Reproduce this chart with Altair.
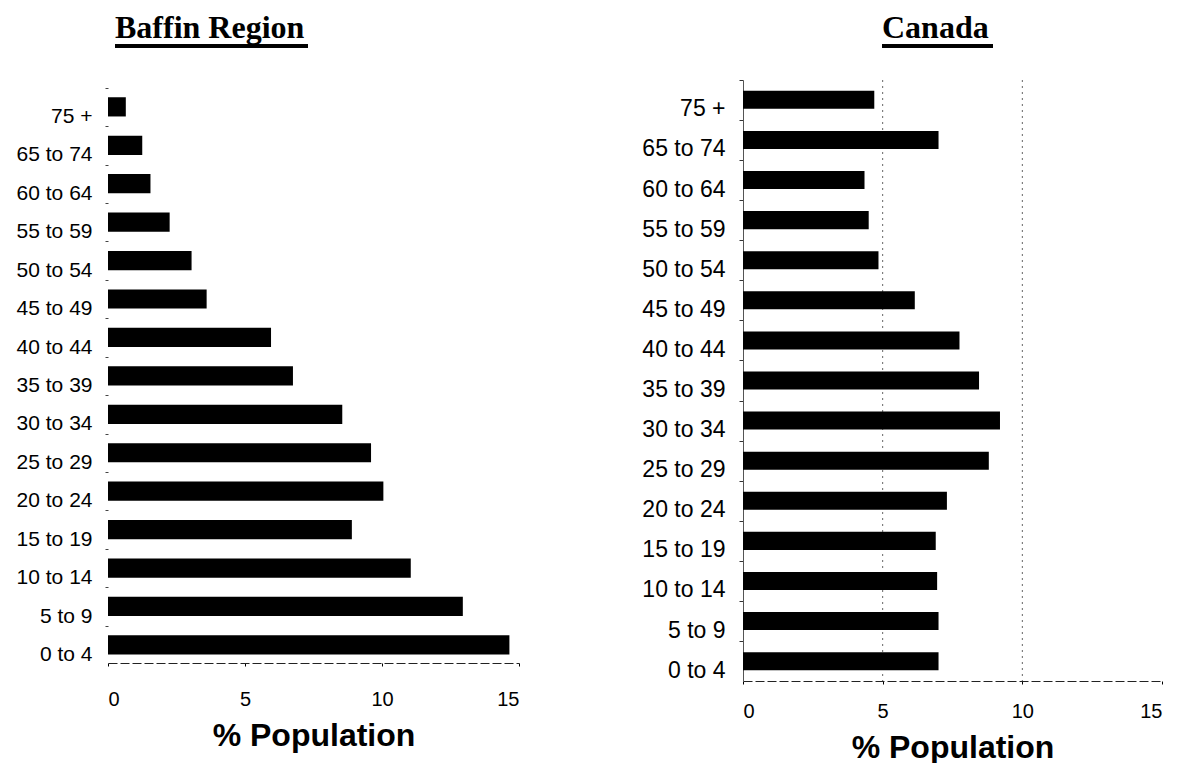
import altair as alt
import pandas as pd

age_groups = ["75 +", "65 to 74", "60 to 64", "55 to 59", "50 to 54", "45 to 49",
              "40 to 44", "35 to 39", "30 to 34", "25 to 29", "20 to 24", "15 to 19",
              "10 to 14", "5 to 9", "0 to 4"]
baffin_pct = [0.65, 1.25, 1.55, 2.25, 3.05, 3.6, 5.95, 6.75, 8.55, 9.6, 10.05, 8.9, 11.05, 12.95, 14.65]
canada_pct = [4.7, 7.0, 4.35, 4.5, 4.85, 6.15, 7.75, 8.45, 9.2, 8.8, 7.3, 6.9, 6.95, 7.0, 7.0]
x_ticks = [0, 5, 10, 15]
canada_grid = [5, 10]

SANS = "Liberation Sans"
SERIF = "Liberation Serif"

df_b = pd.DataFrame({"age": age_groups, "pct": baffin_pct})
df_c = pd.DataFrame({"age": age_groups, "pct": canada_pct})
df_grid = pd.DataFrame({"v": canada_grid})


def x_enc(label_size, title_size, label_pad, title_pad):
    return alt.X(
        "pct:Q",
        scale=alt.Scale(domain=[0, 15], nice=False, zero=True),
        axis=alt.Axis(
            values=x_ticks, title="% Population", grid=False,
            labelFont=SANS, labelFontSize=label_size, labelColor="black",
            labelPadding=label_pad, tickSize=3, tickColor="black",
            domainColor="#222", domainWidth=1, domainDash=[9, 3],
            titleFont=SANS, titleFontSize=title_size, titleFontWeight="bold",
            titleColor="black", titlePadding=title_pad,
        ),
    )


UL_Y = -34

# ---- Baffin Region ----
step_b = 583 / (15 - 0.5 + 0.67)
bars_b = alt.Chart(df_b).mark_bar(color="black").encode(
    x=x_enc(20, 32, 23, 11),
    y=alt.Y(
        "age:N", sort=age_groups,
        scale=alt.Scale(paddingInner=0.5, paddingOuter=0.335, align=0.67),
        axis=alt.Axis(
            title=None, labelFont=SANS, labelFontSize=21, labelColor="black",
            labelPadding=13, tickSize=3, tickColor="#444", domain=False,
            bandPosition=0, tickOffset=-0.5 * 0.5 * step_b, labelOffset=step_b / 2,
            minExtent=100, maxExtent=100,
        ),
    ),
)
ul_b = alt.Chart(df_b).mark_rule(color="black", strokeWidth=2.5).encode(
    x=alt.value(7), x2=alt.value(200), y=alt.value(UL_Y)
)
left = alt.layer(bars_b, ul_b).properties(
    width=411, height=583,
    title=alt.TitleParams(
        "Baffin Region", font=SERIF, fontSize=32, fontWeight="bold", color="black",
        anchor="start", dx=7, offset=0, frame="group",
    ),
)

# ---- Canada ----
step_c = 601 / (15 - 0.55 + 0.54)
grid_c = alt.Chart(df_grid).mark_rule(color="#666", strokeDash=[2, 4], strokeWidth=1).encode(
    x=alt.X("v:Q", scale=alt.Scale(domain=[0, 15], nice=False))
)
bars_c = alt.Chart(df_c).mark_bar(color="black").encode(
    x=x_enc(20, 32, 17, 11),
    y=alt.Y(
        "age:N", sort=age_groups,
        scale=alt.Scale(paddingInner=0.55, paddingOuter=0.27),
        axis=alt.Axis(
            title=None, labelFont=SANS, labelFontSize=23, labelColor="black",
            labelPadding=14, tickSize=4, tickColor="#333", domain=True,
            domainColor="#555", domainWidth=1,
            bandPosition=0, tickOffset=-0.5 * 0.55 * step_c, labelOffset=step_c / 2,
            minExtent=113, maxExtent=113,
        ),
    ),
)
ul_c = alt.Chart(df_c).mark_rule(color="black", strokeWidth=2.5).encode(
    x=alt.value(139), x2=alt.value(250), y=alt.value(UL_Y)
)
right = alt.layer(grid_c, bars_c, ul_c).properties(
    width=419, height=601,
    title=alt.TitleParams(
        "Canada", font=SERIF, fontSize=32, fontWeight="bold", color="black",
        anchor="start", dx=139, offset=0, frame="group",
    ),
)

chart = alt.hconcat(left, right, spacing=110).properties(
    padding={"top": 3, "left": 0, "right": 0, "bottom": 0}, background="white"
).configure_view(stroke=None)

chart.save("out.html", embed_options={"renderer": "svg", "actions": False})
